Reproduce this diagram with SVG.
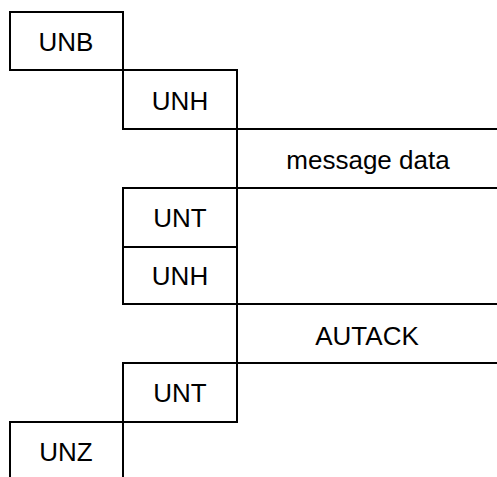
<svg xmlns="http://www.w3.org/2000/svg" width="497" height="477" viewBox="0 0 497 477">
<style>
.b{fill:none;stroke:#000;stroke-width:2;stroke-linecap:square}
.t{font-family:"Liberation Sans",Arial,sans-serif;font-size:26px;fill:#000;text-anchor:middle}
</style>
<rect width="497" height="477" fill="#fff"/>
<g id="unb"><rect class="b" x="10" y="12" width="113" height="58"/><text class="t" x="66" y="51">UNB</text></g>
<g id="unh1"><rect class="b" x="123" y="70" width="114" height="59"/><text class="t" x="180" y="110">UNH</text></g>
<g id="message-data"><path class="b" d="M498,129 H237 V188 H498"/><text class="t" x="368" y="169">message data</text></g>
<g id="unt1"><rect class="b" x="123" y="188" width="114" height="59"/><text class="t" x="180" y="227">UNT</text></g>
<g id="unh2"><rect class="b" x="123" y="247" width="114" height="57"/><text class="t" x="180" y="285">UNH</text></g>
<g id="autack"><path class="b" d="M498,304 H237 V363 H498"/><text class="t" x="367" y="345">AUTACK</text></g>
<g id="unt2"><rect class="b" x="123" y="363" width="114" height="59"/><text class="t" x="180" y="402">UNT</text></g>
<g id="unz"><path class="b" d="M10,478 V422 H123 V478"/><text class="t" x="66" y="461">UNZ</text></g>
<g id="connectors"></g>
</svg>
